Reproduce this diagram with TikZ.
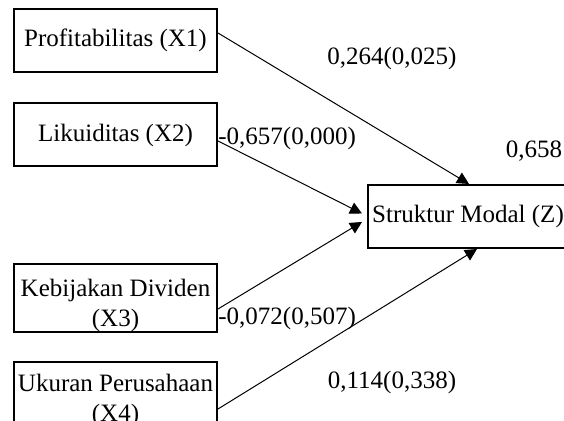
\documentclass[tikz,border=0pt]{standalone}
\usepackage{fontspec}
\setmainfont{Liberation Serif}
\usetikzlibrary{arrows.meta}

\begin{document}
\begin{tikzpicture}[x=0.5pt, y=-0.5pt,
    font=\fontsize{12.5}{15}\selectfont,
    var/.style={draw, line width=1pt, minimum width=101.5pt, minimum height=31.5pt, inner sep=0pt, align=center},
    effect/.style={-{Triangle[length=6pt,width=6pt]}, line width=0.5pt},
    coef/.style={inner sep=0pt}]
    \useasboundingbox (0,0) rectangle (564,421);
    % variables
    \node[var] (x1) at (115.5,40.5) {Profitabilitas (X1)};
    \node[var] (x2) at (115.5,135) {Likuiditas (X2)};
    \node[var] (x3) at (115.5,298) {\rule{0pt}{16pt}Kebijakan Dividen\\(X3)};
    \node[var] (x4) at (115.5,394.5) {\rule{0pt}{15pt}Ukuran Perusahaan\\(X4)};
    \node[var, minimum width=100pt] (z) at (468,216.5) {Struktur Modal (Z)};
    % paths
    \draw[effect] ([yshift=3.75pt]x1.east) -- ([xshift=0.5pt]z.north);
    \draw[effect] ([yshift=-3pt]x2.east) -- ([xshift=-2.5pt, yshift=1.5pt]z.west);
    \draw[effect] ([yshift=-5.5pt]x3.east) -- ([xshift=-2.5pt, yshift=-2.75pt]z.west);
    \draw[effect] ([yshift=-7.25pt]x4.east) -- ([xshift=4.5pt]z.south);
    % coefficients
    \node[coef] (c1) at (392,58) {0,264(0,025)};
    \node[coef, anchor=west] (c2) at (218,138) {-0,657(0,000)};
    \node[coef, anchor=west] (c3) at (218,318) {-0,072(0,507)};
    \node[coef] (c4) at (392,382) {0,114(0,338)};
    \node[coef] (r2) at (534,151) {0,658};
\end{tikzpicture}
\end{document}
